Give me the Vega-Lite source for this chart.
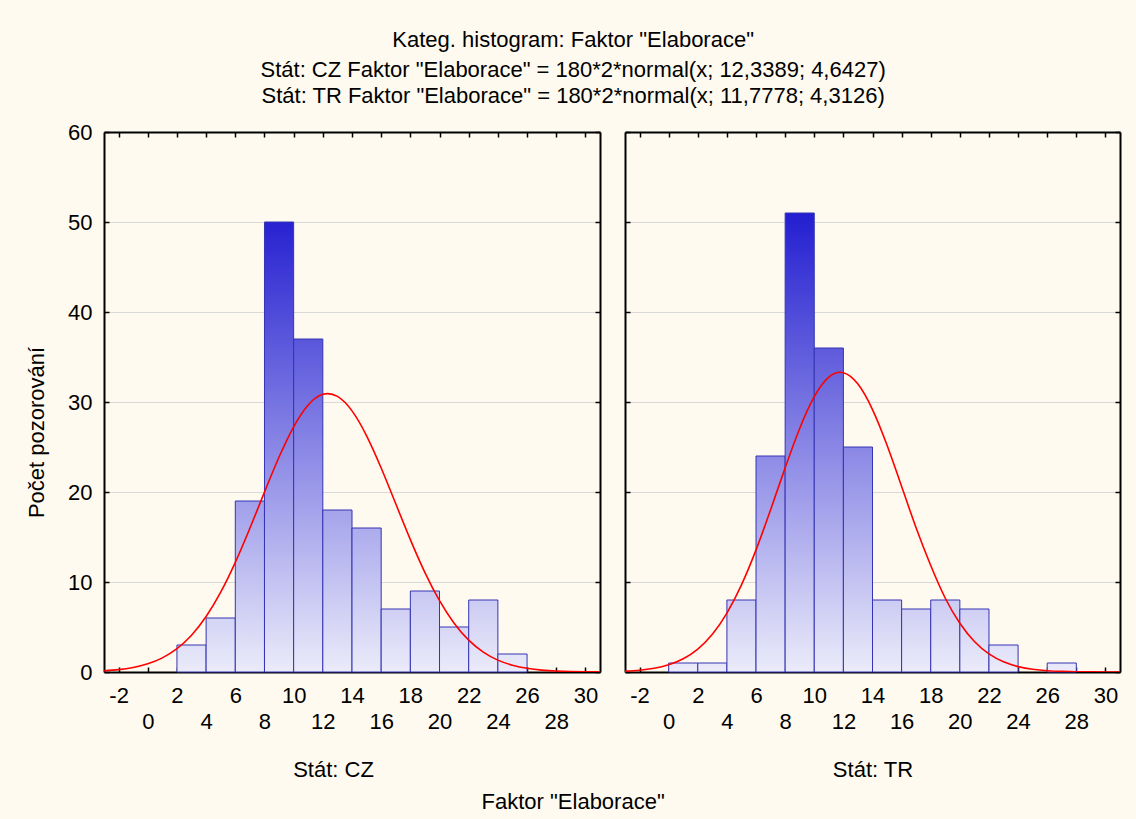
{
  "$schema": "https://vega.github.io/schema/vega-lite/v6.json",
  "background": "#fffaef",
  "padding": {"left": 25, "top": 29, "right": 18, "bottom": 10},
  "title": {
    "text": "Kateg. histogram: Faktor \"Elaborace\"",
    "subtitle": ["Stát: CZ Faktor \"Elaborace\" = 180*2*normal(x; 12,3389; 4,6427)", "Stát: TR Faktor \"Elaborace\" = 180*2*normal(x; 11,7778; 4,3126)"],
    "anchor": "middle",
    "font": "Liberation Sans",
    "fontSize": 22,
    "fontWeight": "normal",
    "color": "#000000",
    "subtitleFont": "Liberation Sans",
    "subtitleFontSize": 22,
    "subtitleColor": "#000000",
    "subtitlePadding": 8,
    "subtitleLineHeight": 26,
    "offset": 13
  },
  "config": {
    "view": {"stroke": null},
    "axis": {
      "labelFont": "Liberation Sans",
      "labelFontSize": 22,
      "labelColor": "#000000",
      "titleFont": "Liberation Sans",
      "titleFontSize": 22,
      "titleFontWeight": "normal",
      "titleColor": "#000000",
      "domainColor": "#000000",
      "domainWidth": 2,
      "tickColor": "#000000",
      "tickWidth": 1.5,
      "tickSize": -5,
      "gridColor": "#d9d9d9",
      "gridWidth": 1
    }
  },
  "datasets": {
    "cz_bins": [
      {"bin_start": 2, "bin_end": 4, "count": 3},
      {"bin_start": 4, "bin_end": 6, "count": 6},
      {"bin_start": 6, "bin_end": 8, "count": 19},
      {"bin_start": 8, "bin_end": 10, "count": 50},
      {"bin_start": 10, "bin_end": 12, "count": 37},
      {"bin_start": 12, "bin_end": 14, "count": 18},
      {"bin_start": 14, "bin_end": 16, "count": 16},
      {"bin_start": 16, "bin_end": 18, "count": 7},
      {"bin_start": 18, "bin_end": 20, "count": 9},
      {"bin_start": 20, "bin_end": 22, "count": 5},
      {"bin_start": 22, "bin_end": 24, "count": 8},
      {"bin_start": 24, "bin_end": 26, "count": 2}
    ],
    "tr_bins": [
      {"bin_start": 0, "bin_end": 2, "count": 1},
      {"bin_start": 2, "bin_end": 4, "count": 1},
      {"bin_start": 4, "bin_end": 6, "count": 8},
      {"bin_start": 6, "bin_end": 8, "count": 24},
      {"bin_start": 8, "bin_end": 10, "count": 51},
      {"bin_start": 10, "bin_end": 12, "count": 36},
      {"bin_start": 12, "bin_end": 14, "count": 25},
      {"bin_start": 14, "bin_end": 16, "count": 8},
      {"bin_start": 16, "bin_end": 18, "count": 7},
      {"bin_start": 18, "bin_end": 20, "count": 8},
      {"bin_start": 20, "bin_end": 22, "count": 7},
      {"bin_start": 22, "bin_end": 24, "count": 3},
      {"bin_start": 26, "bin_end": 28, "count": 1}
    ],
    "cz_curve": [
      {"x": -3, "y": 0.132}, {"x": -2, "y": 0.263}, {"x": -1, "y": 0.499}, {"x": 0, "y": 0.905},
      {"x": 1, "y": 1.567}, {"x": 2, "y": 2.591}, {"x": 3, "y": 4.091}, {"x": 4, "y": 6.165},
      {"x": 5, "y": 8.868}, {"x": 6, "y": 12.179}, {"x": 7, "y": 15.968}, {"x": 8, "y": 19.988},
      {"x": 9, "y": 23.885}, {"x": 10, "y": 27.247}, {"x": 11, "y": 29.674}, {"x": 12, "y": 30.852},
      {"x": 13, "y": 30.622}, {"x": 14, "y": 29.016}, {"x": 15, "y": 26.248}, {"x": 16, "y": 22.667},
      {"x": 17, "y": 18.689}, {"x": 18, "y": 14.709}, {"x": 19, "y": 11.052}, {"x": 20, "y": 7.929},
      {"x": 21, "y": 5.428}, {"x": 22, "y": 3.549}, {"x": 23, "y": 2.215}, {"x": 24, "y": 1.32},
      {"x": 25, "y": 0.751}, {"x": 26, "y": 0.408}, {"x": 27, "y": 0.211}, {"x": 28, "y": 0.105},
      {"x": 29, "y": 0.049}, {"x": 30, "y": 0.022}, {"x": 31, "y": 0.009}
    ],
    "tr_curve": [
      {"x": -3, "y": 0.094}, {"x": -2, "y": 0.202}, {"x": -1, "y": 0.413}, {"x": 0, "y": 0.799},
      {"x": 1, "y": 1.466}, {"x": 2, "y": 2.548}, {"x": 3, "y": 4.197}, {"x": 4, "y": 6.55},
      {"x": 5, "y": 9.686}, {"x": 6, "y": 13.573}, {"x": 7, "y": 18.027}, {"x": 8, "y": 22.69},
      {"x": 9, "y": 27.063}, {"x": 10, "y": 30.589}, {"x": 11, "y": 32.765}, {"x": 12, "y": 33.258},
      {"x": 13, "y": 31.992}, {"x": 14, "y": 29.162}, {"x": 15, "y": 25.192}, {"x": 16, "y": 20.623},
      {"x": 17, "y": 15.998}, {"x": 18, "y": 11.828}, {"x": 19, "y": 8.194}, {"x": 20, "y": 5.41},
      {"x": 21, "y": 3.385}, {"x": 22, "y": 2.006}, {"x": 23, "y": 1.127}, {"x": 24, "y": 0.6},
      {"x": 25, "y": 0.303}, {"x": 26, "y": 0.145}, {"x": 27, "y": 0.066}, {"x": 28, "y": 0.028},
      {"x": 29, "y": 0.012}, {"x": 30, "y": 0.004}, {"x": 31, "y": 0.002}
    ]
  },
  "vconcat": [
    {
      "title": {"text": "Faktor \"Elaborace\"", "orient": "bottom", "anchor": "middle", "font": "Liberation Sans", "fontSize": 22, "fontWeight": "normal", "color": "#000000", "offset": 12},
      "spacing": 23,
      "hconcat": [
        {
          "width": 496,
          "height": 540,
          "layer": [
            {
              "data": {"name": "cz_bins"},
              "mark": {"type": "rect", "stroke": "#3434b4", "strokeWidth": 1},
              "encoding": {
                "x": {"field": "bin_start", "type": "quantitative", "scale": {"domain": [-3, 31], "nice": false, "zero": false},
                  "axis": {"orient": "bottom", "values": [-2,0,2,4,6,8,10,12,14,16,18,20,22,24,26,28,30], "labelExpr": "datum.value + ''", "labelPadding": {"condition": {"test": "datum.value % 4 == 0", "value": 44}, "value": 18}, "grid": false, "title": "Stát: CZ", "titlePadding": 27, "titleX": 229}},
                "x2": {"field": "bin_end"},
                "y": {"field": "count", "type": "quantitative", "scale": {"domain": [0, 60], "nice": false},
                  "axis": {"orient": "left", "values": [0,10,20,30,40,50,60], "grid": true, "labelPadding": 17, "title": "Počet pozorování", "titlePadding": 19, "titleY": 300}},
                "y2": {"datum": 0},
                "fill": {"value": {"expr": "{gradient: 'linear', x1: 0, y1: 0, x2: 0, y2: 1, stops: [{offset: 0, color: 'rgb(' + round(235 - 200*datum.count/51) + ',' + round(235 - 205*datum.count/51) + ',' + round(250 - 42*datum.count/51) + ')'}, {offset: 1, color: 'rgb(235,235,250)'}]}"}}
              }
            },
            {
              "data": {"name": "cz_curve"},
              "mark": {"type": "line", "color": "#ff0000", "strokeWidth": 1.6, "interpolate": "natural", "clip": true},
              "encoding": {
                "x": {"field": "x", "type": "quantitative", "scale": {"domain": [-3, 31], "nice": false, "zero": false},
                  "axis": {"orient": "top", "values": [-2,0,2,4,6,8,10,12,14,16,18,20,22,24,26,28,30], "labels": false, "grid": false, "title": null}},
                "y": {"field": "y", "type": "quantitative", "scale": {"domain": [0, 60], "nice": false},
                  "axis": {"orient": "right", "values": [0,10,20,30,40,50,60], "labels": false, "grid": false, "title": null}}
              }
            }
          ]
        },
        {
          "width": 495,
          "height": 540,
          "layer": [
            {
              "data": {"name": "tr_bins"},
              "mark": {"type": "rect", "stroke": "#3434b4", "strokeWidth": 1},
              "encoding": {
                "x": {"field": "bin_start", "type": "quantitative", "scale": {"domain": [-3, 31], "nice": false, "zero": false},
                  "axis": {"orient": "bottom", "values": [-2,0,2,4,6,8,10,12,14,16,18,20,22,24,26,28,30], "labelExpr": "datum.value + ''", "labelPadding": {"condition": {"test": "datum.value % 4 == 0", "value": 44}, "value": 18}, "grid": false, "title": "Stát: TR", "titlePadding": 27}},
                "x2": {"field": "bin_end"},
                "y": {"field": "count", "type": "quantitative", "scale": {"domain": [0, 60], "nice": false},
                  "axis": {"orient": "left", "values": [0,10,20,30,40,50,60], "grid": true, "labels": false, "title": null}},
                "y2": {"datum": 0},
                "fill": {"value": {"expr": "{gradient: 'linear', x1: 0, y1: 0, x2: 0, y2: 1, stops: [{offset: 0, color: 'rgb(' + round(235 - 200*datum.count/51) + ',' + round(235 - 205*datum.count/51) + ',' + round(250 - 42*datum.count/51) + ')'}, {offset: 1, color: 'rgb(235,235,250)'}]}"}}
              }
            },
            {
              "data": {"name": "tr_curve"},
              "mark": {"type": "line", "color": "#ff0000", "strokeWidth": 1.6, "interpolate": "natural", "clip": true},
              "encoding": {
                "x": {"field": "x", "type": "quantitative", "scale": {"domain": [-3, 31], "nice": false, "zero": false},
                  "axis": {"orient": "top", "values": [-2,0,2,4,6,8,10,12,14,16,18,20,22,24,26,28,30], "labels": false, "grid": false, "title": null}},
                "y": {"field": "y", "type": "quantitative", "scale": {"domain": [0, 60], "nice": false},
                  "axis": {"orient": "right", "values": [0,10,20,30,40,50,60], "labels": false, "grid": false, "title": null}}
              }
            }
          ]
        }
      ]
    }
  ]
}
